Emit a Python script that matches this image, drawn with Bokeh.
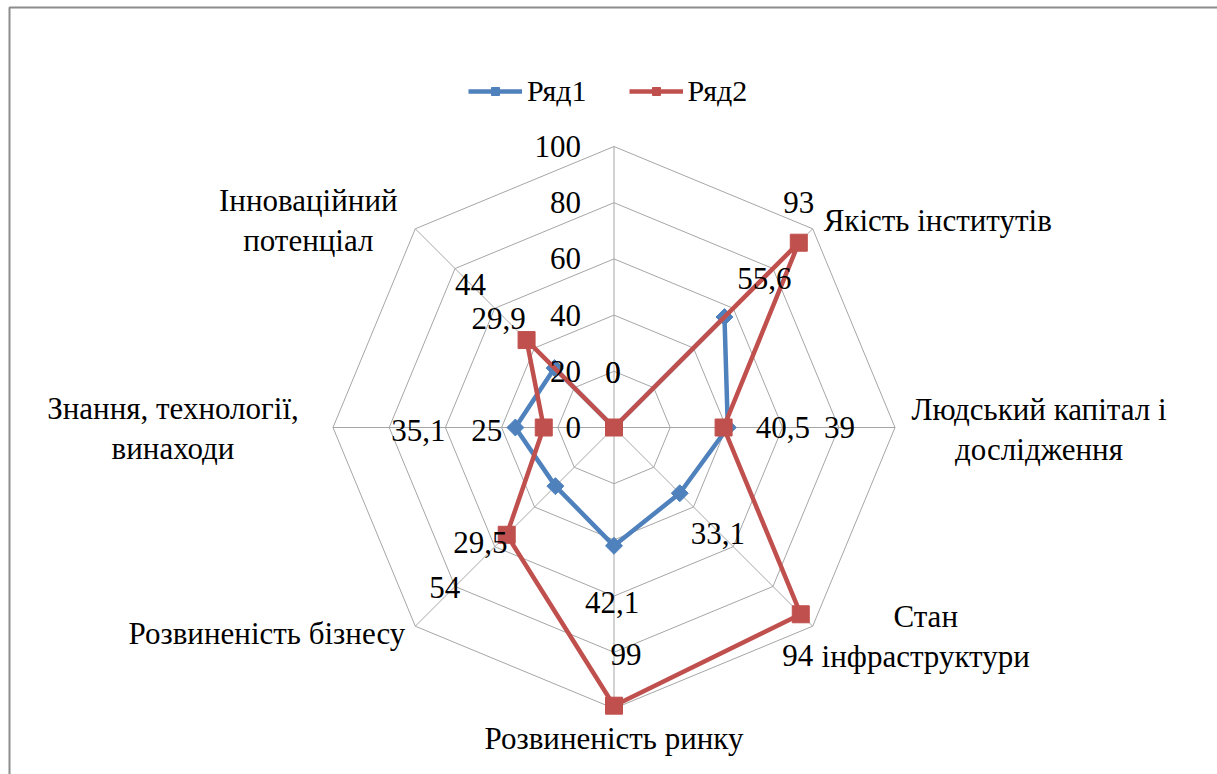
import numpy as np
from bokeh.plotting import figure
from bokeh.models import ColumnDataSource, Legend, LegendItem
from bokeh.core.properties import value
from bokeh.embed import file_html
from bokeh.resources import INLINE

# ---------------- data ----------------
categories = ["", "Якість інститутів", "Людський капітал і\nдослідження",
              "Стан\nінфраструктури", "Розвиненість ринку", "Розвиненість бізнесу",
              "Знання, технології,\nвинаходи", "Інноваційний\nпотенціал"]
series1_name = "Ряд1"
series1 = [0, 55.6, 40.5, 33.1, 42.1, 29.5, 35.1, 29.9]
series2_name = "Ряд2"
series2 = [0, 93, 39, 94, 99, 54, 25, 44]
ring_levels = [0, 20, 40, 60, 80, 100]
ring_labels = ["0", "20", "40", "60", "80", "100"]

# ---------------- layout / style ----------------
W, H = 1217, 774
PX = 2.81                    # pixels per value unit
CX, CY = 613.5, 427.0        # centre of the radar on the canvas (px)
FONT = "Liberation Serif"
FS = "31px"
BLUE = "#4F81BD"
RED = "#C0504D"
GRID = "#a6a6a6"

# label offsets in pixels (screen, y downward)
s1_dx = [-1, 40, 55, 38, -2, -75, -97, -56]
s1_dy = [-55, -39, 0, 40, 57, 56, 3, -50]
s2_dx = [-1, 0, 116, -3, 12, -62, -57, -56]
s2_dy = [-55, -40, 0, 41, -51, 53, 3, -56]
cat_dx = [0, 11, 144, 113, 0, -10, -160, -107]
cat_dy = [0, -8, 2, 10, 30, 7, 1, -8]
cat_align = ["center", "left", "center", "center", "center", "right", "center", "center"]

n = len(categories)
theta = np.pi / 2 - np.arange(n) * 2 * np.pi / n
cos_t, sin_t = np.cos(theta), np.sin(theta)

p = figure(width=W, height=H,
           x_range=(-CX / PX, (W - CX) / PX), y_range=(-(H - CY) / PX, CY / PX),
           min_border=0, toolbar_location=None, output_backend="svg",
           x_axis_location=None, y_axis_location=None,
           outline_line_color=None, background_fill_color="white",
           border_fill_color="white")
p.xgrid.visible = False
p.ygrid.visible = False

# chart-area border (top and left edge visible)
xl = p.x_range.start + 9.0 / PX
yt = p.y_range.end - 7.0 / PX
p.line([xl, xl, p.x_range.end], [p.y_range.start, yt, yt], line_color="#8c8c8c", line_width=2)

# grid: rings + spokes
top = max(ring_levels)
rx = [list(lvl * np.append(cos_t, cos_t[0])) for lvl in ring_levels[1:]]
ry = [list(lvl * np.append(sin_t, sin_t[0])) for lvl in ring_levels[1:]]
p.multi_line(rx, ry, line_color=GRID, line_width=1)
p.segment(x0=np.zeros(n), y0=np.zeros(n), x1=top * cos_t, y1=top * sin_t,
          line_color=GRID, line_width=1)

# series
def closed(vals):
    v = np.array(vals, dtype=float)
    x = v * cos_t
    y = v * sin_t
    return np.append(x, x[0]), np.append(y, y[0]), x, y

x1c, y1c, x1, y1 = closed(series1)
x2c, y2c, x2, y2 = closed(series2)

l1 = p.line(x1c, y1c, line_color=BLUE, line_width=4.5, line_join="round")
m1 = p.scatter(x1, y1, marker="square", size=12, angle=np.pi / 4,
               fill_color=BLUE, line_color=BLUE)
l2 = p.line(x2c, y2c, line_color=RED, line_width=4.5, line_join="round")
m2 = p.scatter(x2, y2, marker="square", size=17, fill_color=RED, line_color=RED)

# axis tick labels along the top spoke
p.text(x=np.zeros(len(ring_levels)), y=ring_levels, text=ring_labels,
       x_offset=-33, text_align="right", text_baseline="middle",
       text_font=value(FONT), text_font_size=FS, text_color="black")

# data labels
def fmt(v):
    return f"{v:g}".replace(".", ",")

src1 = ColumnDataSource(dict(x=x1, y=y1, t=[fmt(v) for v in series1], dx=s1_dx, dy=s1_dy))
src2 = ColumnDataSource(dict(x=x2, y=y2, t=[fmt(v) for v in series2], dx=s2_dx, dy=s2_dy))
for src in (src1, src2):
    p.text(x="x", y="y", text="t", x_offset="dx", y_offset="dy", source=src,
           text_align="center", text_baseline="middle",
           text_font=value(FONT), text_font_size=FS, text_color="black")

# category labels
for align in ("left", "center", "right"):
    idx = [i for i in range(n) if cat_align[i] == align and categories[i]]
    if not idx:
        continue
    cs = ColumnDataSource(dict(x=top * cos_t[idx], y=top * sin_t[idx],
                               t=[categories[i] for i in idx],
                               dx=[cat_dx[i] for i in idx], dy=[cat_dy[i] for i in idx]))
    p.text(x="x", y="y", text="t", x_offset="dx", y_offset="dy", source=cs,
           text_align=align, text_baseline="middle", text_line_height=1.15,
           text_font=value(FONT), text_font_size=FS, text_color="black")

# legend
legend = Legend(items=[LegendItem(label=series1_name, renderers=[l1, m1]),
                       LegendItem(label=series2_name, renderers=[l2, m2])],
                orientation="horizontal", location=(468, 666),
                glyph_width=54, glyph_height=20, label_standoff=5, spacing=42,
                padding=0, margin=0, border_line_color=None,
                background_fill_alpha=0,
                label_text_font=FONT, label_text_font_size="30px",
                label_text_color="black")
p.add_layout(legend)

open("out.html", "w").write(file_html(p, INLINE))
